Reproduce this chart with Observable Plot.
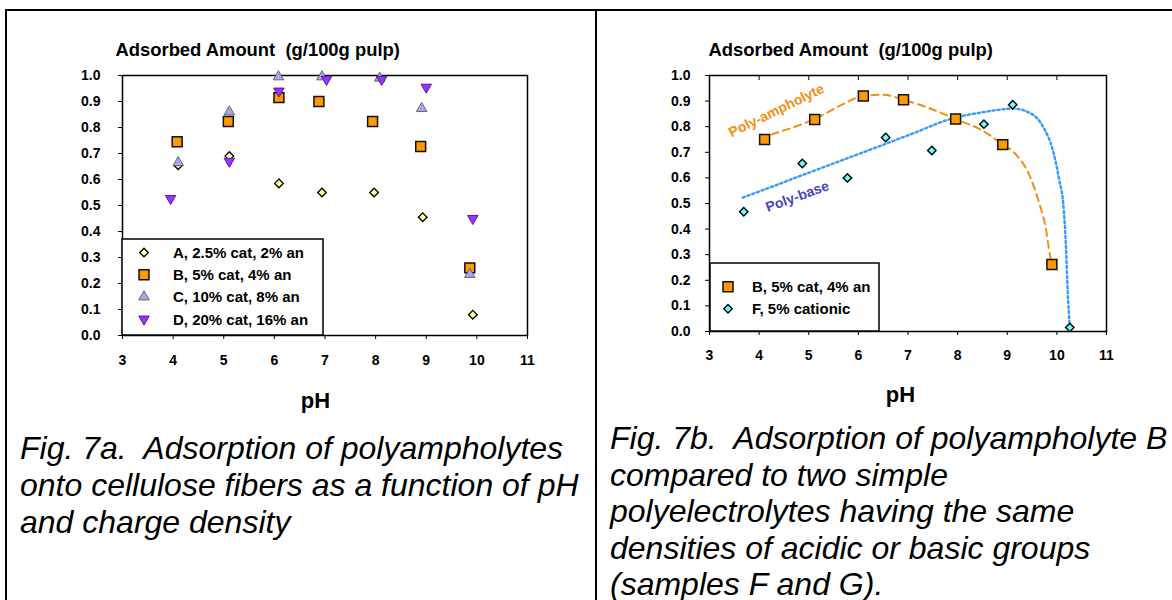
<!DOCTYPE html>
<html><head><meta charset="utf-8">
<script src="https://cdn.jsdelivr.net/npm/d3@7"></script>
<script src="https://cdn.jsdelivr.net/npm/@observablehq/plot@0.6"></script>
<style>
html,body{margin:0;padding:0;background:#fff;}
body{width:1172px;height:600px;position:relative;overflow:hidden;font-family:"Liberation Sans",Arial,Helvetica,sans-serif;}
#left,#right{position:absolute;top:0;}
#left{left:0;} #right{left:597px;}
svg text{white-space:pre;}
.cap{position:absolute;font-style:italic;font-size:32px;white-space:pre;color:#000;margin:0;}
#overlay{position:absolute;left:0;top:0;pointer-events:none;}
</style></head><body>
<div id="left"></div><div id="right"></div>
<div class="cap" id="capL" style="left:20px;top:430px;line-height:37px;"></div>
<div class="cap" id="capR" style="left:610px;top:420px;line-height:36.5px;"></div>
<svg id="overlay" width="1172" height="600"></svg>
<script>
// ---------- data ----------
const xTicks = [3, 4, 5, 6, 7, 8, 9, 10, 11];
const yTicks = [0, 0.1, 0.2, 0.3, 0.4, 0.5, 0.6, 0.7, 0.8, 0.9, 1.0];
const yTitle = "Adsorbed Amount  (g/100g pulp)";
const xTitle = "pH";

// Fig 7a
const namesA = ["A, 2.5% cat, 2% an", "B, 5% cat, 4% an", "C, 10% cat, 8% an", "D, 20% cat, 16% an"];
const phA = [4.10, 5.11, 6.09, 6.94, 7.97, 8.93, 9.92];
const valA = [0.655, 0.69, 0.585, 0.55, 0.55, 0.455, 0.08];
const phB = [4.08, 5.09, 6.09, 6.88, 7.94, 8.89, 9.86];
const valB = [0.745, 0.823, 0.915, 0.90, 0.823, 0.727, 0.26];
const phC = [4.10, 5.11, 6.08, 6.94, 8.08, 8.91, 9.86];
const valC = [0.665, 0.86, 0.995, 0.995, 0.99, 0.873, 0.235];
const phD = [3.95, 5.11, 6.09, 7.03, 8.12, 9.00, 9.92];
const valD = [0.527, 0.67, 0.94, 0.985, 0.985, 0.955, 0.45];

// Fig 7b
const namesB = ["B, 5% cat, 4% an", "F, 5% cationic"];
const phB2 = [4.11, 5.12, 6.10, 6.91, 7.96, 8.91, 9.90];
const valB2 = [0.75, 0.828, 0.92, 0.905, 0.83, 0.73, 0.262];
const phF = [3.69, 4.87, 5.78, 6.55, 7.48, 8.53, 9.11, 10.26];
const valF = [0.468, 0.656, 0.60, 0.758, 0.707, 0.81, 0.886, 0.016];

// hand-drawn trend curves
const ampPH  = [4.25, 4.65, 5.12, 5.64, 6.10, 6.50, 6.91, 7.46, 7.96, 8.50, 8.91, 9.13, 9.47, 9.63, 9.77, 9.86, 9.90];
const ampVal = [0.77, 0.795, 0.83, 0.883, 0.92, 0.925, 0.905, 0.87, 0.83, 0.785, 0.73, 0.70, 0.60, 0.51, 0.41, 0.30, 0.262];
const basePH  = [3.67, 5.0, 6.0, 7.0, 7.96, 8.46, 8.87, 9.11, 9.47, 9.73, 9.92, 10.04, 10.14, 10.18, 10.22, 10.26];
const baseVal = [0.523, 0.62, 0.693, 0.766, 0.836, 0.855, 0.867, 0.871, 0.852, 0.797, 0.707, 0.60, 0.473, 0.344, 0.148, 0.02];

const curveLabels = ["Poly-ampholyte", "Poly-base"];
const labelPH = [4.35, 4.77];
const labelVal = [0.863, 0.527];

const captionL = ["Fig. 7a.  Adsorption of polyampholytes", "onto cellulose fibers as a function of pH", "and charge density"];
const captionR = ["Fig. 7b.  Adsorption of polyampholyte B", "compared to two simple", "polyelectrolytes having the same", "densities of acidic or basic groups", "(samples F and G)."];

// ---------- styles ----------
const sqrt3 = Math.sqrt(3);
const triangleDown = {
  draw(context, size) {
    const y = -Math.sqrt(size / (sqrt3 * 3));
    context.moveTo(0, -y * 2);
    context.lineTo(-sqrt3 * y, y);
    context.lineTo(sqrt3 * y, y);
    context.closePath();
  }
};
const styA = {symbol: "diamond2", fill: "#ffff99", stroke: "#000", r: 3.9, strokeWidth: 1.3};
const styB = {symbol: "square", fill: "#ff9900", stroke: "#111", r: 5.6, strokeWidth: 1.5};
const styC = {symbol: "triangle", fill: "#bb99ff", stroke: "#3a703a", r: 3.9, strokeWidth: 0.9};
const styD = {symbol: triangleDown, fill: "#9933ff", stroke: "#5a1a99", r: 3.9, strokeWidth: 1};
const styF = {symbol: "diamond2", fill: "#66ffff", stroke: "#000", r: 3.8, strokeWidth: 1.4};

const rows = (ph, val) => ph.map((p, i) => ({ph: p, val: val[i]}));

function chart({width, height, ml, mr, mt, mb, yPad, xPad, pHdx, pHdy, titleDx, extra}) {
  return Plot.plot({
    width, height,
    marginLeft: ml, marginRight: mr, marginTop: mt, marginBottom: mb,
    style: {background: "transparent", fontFamily: "'Liberation Sans', Arial, sans-serif", fontWeight: "bold", fontSize: "14px", overflow: "visible", color: "#000"},
    x: {domain: [3, 11]},
    y: {domain: [0, 1]},
    marks: [
      Plot.axisY(yTicks, {tickFormat: d3.format(".1f"), tickSize: 4, tickPadding: yPad, fontSize: 14, fontWeight: "bold", label: null}),
      Plot.axisX(xTicks, {tickFormat: d3.format("d"), tickSize: 4, tickPadding: xPad, fontSize: 14, fontWeight: "bold", label: null}),
      Plot.frame({stroke: "#000", strokeWidth: 1.5}),
      ...extra,
      Plot.text([yTitle], {text: d => d, frameAnchor: "top-left", dx: titleDx, dy: -25, textAnchor: "start", lineAnchor: "middle", fontSize: 18.4, fontWeight: "bold", fill: "#000"}),
      Plot.text([xTitle], {text: d => d, frameAnchor: "bottom", dx: pHdx, dy: pHdy, lineAnchor: "middle", fontSize: 22, fontWeight: "bold", fill: "#000"})
    ]
  });
}

const dot = (data, s) => Plot.dot(data, {x: "ph", y: "val", symbol: s.symbol, r: s.r, fill: s.fill, stroke: s.stroke, strokeWidth: s.strokeWidth});

// Left chart: frame x 122..527, y 75..335
const left = chart({
  width: 596, height: 420, ml: 122, mr: 69, mt: 75, mb: 85,
  yPad: 18, xPad: 16, pHdx: -9.5, pHdy: 65, titleDx: -7,
  extra: [
    dot(rows(phA, valA), styA),
    dot(rows(phB, valB), styB),
    dot(rows(phC, valC), styC),
    dot(rows(phD, valD), styD)
  ]
});
document.getElementById("left").appendChild(left);

// Right chart: frame x 709..1106, y 75..331 (svg offset 597)
const rightFrameH = 420 - 75 - 89;
const right = chart({
  width: 575, height: 420, ml: 112, mr: 66, mt: 75, mb: 89,
  yPad: 15, xPad: 15, pHdx: -7.5, pHdy: 63.5, titleDx: -1,
  extra: [
    Plot.ruleX(xTicks.slice(1, -1), {x: d => d, insetBottom: rightFrameH - 5, stroke: "#000", strokeWidth: 1}),
    Plot.line(rows(ampPH, ampVal), {x: "ph", y: "val", curve: "monotone-x", stroke: "#ef9012", strokeWidth: 2, strokeDasharray: "7,5"}),
    Plot.line(rows(basePH, baseVal), {x: "ph", y: "val", curve: "monotone-x", stroke: "#3399ff", strokeWidth: 2.4, strokeDasharray: "2.2,2.8"}),
    Plot.text([0], {x: i => labelPH[0], y: i => labelVal[0], text: i => curveLabels[0], rotate: -26, fill: "#f09010", fontSize: 14, fontWeight: "bold"}),
    Plot.text([1], {x: i => labelPH[1], y: i => labelVal[1], text: i => curveLabels[1], rotate: -20, fill: "#4646c0", fontSize: 14, fontWeight: "bold"}),
    dot(rows(phB2, valB2), styB),
    dot(rows(phF, valF), styF)
  ]
});
document.getElementById("right").appendChild(right);

// captions
document.getElementById("capL").textContent = captionL.join("\n");
document.getElementById("capR").textContent = captionR.join("\n");

// overlay: page rules and legends
const ov = d3.select("#overlay");
ov.append("rect").attr("x", 5).attr("y", 9).attr("width", 1167).attr("height", 2).attr("fill", "#000");
ov.append("rect").attr("x", 5).attr("y", 9).attr("width", 2).attr("height", 591).attr("fill", "#000");
ov.append("rect").attr("x", 595).attr("y", 9).attr("width", 2).attr("height", 591).attr("fill", "#000");

function symType(s) {
  if (s === "diamond2") return d3.symbolDiamond2;
  if (s === "square") return d3.symbolSquare;
  if (s === "triangle") return d3.symbolTriangle;
  return s;
}
function legend(box, names, styles, mx, tx, y0, dy) {
  const g = ov.append("g");
  g.append("rect").attr("x", box[0]).attr("y", box[1]).attr("width", box[2]).attr("height", box[3])
    .attr("fill", "#fff").attr("stroke", "#000").attr("stroke-width", 1.5);
  names.forEach((n, i) => {
    const s = styles[i];
    const y = y0 + i * dy;
    g.append("path").attr("d", d3.symbol(symType(s.symbol), Math.PI * s.r * s.r)())
      .attr("transform", `translate(${mx},${y})`).attr("fill", s.fill).attr("stroke", s.stroke).attr("stroke-width", s.strokeWidth);
    g.append("text").attr("x", tx).attr("y", y).attr("dy", "0.36em").text(n)
      .attr("font-family", "'Liberation Sans', Arial, sans-serif").attr("font-weight", "bold").attr("font-size", 15);
  });
}
legend([122, 239, 201, 96], namesA, [styA, styB, styC, styD], 144, 173, 252.5, 22.2);
legend([710, 263, 169, 68], namesB, [styB, styF], 728, 752, 286.7, 22);
</script>
</body></html>
